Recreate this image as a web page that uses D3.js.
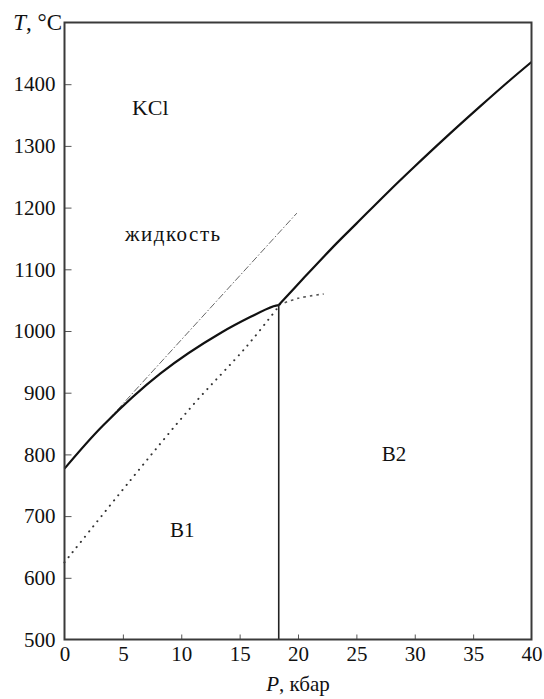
<!DOCTYPE html>
<html>
<head>
<meta charset="utf-8">
<script src="https://cdn.jsdelivr.net/npm/d3@7"></script>
<style>
    body { margin: 0; background: #fff; }
    text { font-family: "Liberation Serif", "Times New Roman", serif; fill: #111; }
</style>
</head>
<body>
<div id="chart"></div>
<script>
// ticks
let xTicks = [0, 5, 10, 15, 20, 25, 30, 35, 40];
let yTicks = [500, 600, 700, 800, 900, 1000, 1100, 1200, 1300, 1400];

// phase boundaries, [P kbar, T °C]
let meltB1 = [[0, 777], [3.3, 847], [8.2, 931], [13.3, 996], [17.9, 1040], [18.35, 1042]];
let meltB2 = [[18.35, 1042], [20.45, 1085], [23.3, 1142], [25, 1174], [27.7, 1225], [29.9, 1265],
    [32.5, 1311], [35.6, 1364], [38, 1404], [40, 1436]];
let meltTangent = [[3.8, 857], [19.9, 1191]];
let transB1B2 = [[0, 625], [5.6, 757], [11, 880], [15.6, 975], [18.35, 1040]];
let meltB1Metastable = [[18.35, 1042], [20, 1053], [22.2, 1060]];
let tripleP = 18.35;

// region labels
let labels = [
    {text: "KCl", p: 5.78, t: 1350, size: 22, spacing: 0},
    {text: "жидкость", p: 5.18, t: 1146, size: 21, spacing: 1.5},
    {text: "B1", p: 9.04, t: 666, size: 21, spacing: 0},
    {text: "B2", p: 27.17, t: 790, size: 21, spacing: 0}
];

let totalWidth = 544, totalHeight = 699;
let mLeft = 64.5, mRight = 12.5, mTop = 22.5, mBottom = 59.5;
let fontSize = 21;

let xScale = d3.scaleLinear().domain([0, 40]).range([mLeft, totalWidth - mRight]);
let yScale = d3.scaleLinear().domain([500, 1500]).range([totalHeight - mBottom, mTop]);

let svg = d3.select("#chart").append("svg")
        .attr("width", totalWidth)
        .attr("height", totalHeight);

function makeAxes() {
    let xAxis = d3.axisBottom(xScale)
            .tickValues(xTicks)
            .tickSize(-5)
            .tickPadding(11)
            .tickFormat(d3.format("d"));
    let yAxis = d3.axisLeft(yScale)
            .tickValues(yTicks)
            .tickSize(-7)
            .tickPadding(9)
            .tickFormat(d3.format("d"));

    let gx = svg.append("g")
            .attr("transform", "translate(0," + yScale(500) + ")")
            .call(xAxis);
    let gy = svg.append("g")
            .attr("transform", "translate(" + xScale(0) + ",0)")
            .call(yAxis);

    [gx, gy].forEach(function (g) {
        g.attr("font-family", null);
        g.select(".domain").remove();
        g.selectAll(".tick line").attr("stroke", "#555").attr("stroke-width", 1);
        g.selectAll(".tick text")
                .attr("font-size", fontSize)
                .attr("fill", "#111");
    });
    // ticks at the corners sit on the frame
    gx.selectAll(".tick line").filter(d => d === 0 || d === 40).remove();
    gy.selectAll(".tick line").filter(d => d === 500).remove();
    gx.selectAll(".tick text").attr("dy", "0.5em");

    // frame
    svg.append("rect")
            .attr("x", xScale(0))
            .attr("y", yScale(1500))
            .attr("width", xScale(40) - xScale(0))
            .attr("height", yScale(500) - yScale(1500))
            .attr("fill", "none")
            .attr("stroke", "#3a3a3a")
            .attr("stroke-width", 2);

    // axis titles
    let tTitle = svg.append("text")
            .attr("x", 62)
            .attr("y", 30)
            .attr("text-anchor", "end")
            .attr("font-size", 23);
    tTitle.append("tspan").attr("font-style", "italic").text("T");
    tTitle.append("tspan").text(", °C");

    let pTitle = svg.append("text")
            .attr("x", (xScale(0) + xScale(40)) / 2)
            .attr("y", 691)
            .attr("text-anchor", "middle")
            .attr("font-size", fontSize);
    pTitle.append("tspan").attr("font-style", "italic").text("P");
    pTitle.append("tspan").text(", кбар");
}

function makeLine(data, style) {
    let line = d3.line()
            .x(d => xScale(d[0]))
            .y(d => yScale(d[1]))
            .curve(style.curve || d3.curveCatmullRom);
    svg.append("path")
            .datum(data)
            .attr("d", line)
            .attr("fill", "none")
            .attr("stroke", style.color)
            .attr("stroke-width", style.width)
            .attr("stroke-dasharray", style.dash || null)
            .attr("stroke-linecap", style.cap || "butt");
}

function makeCurves() {
    makeLine(meltTangent, {color: "#666", width: 1, dash: "7,2,1.5,2", curve: d3.curveLinear});
    makeLine(transB1B2, {color: "#333", width: 2, dash: "0.1,6.5", cap: "round"});
    makeLine(meltB1Metastable, {color: "#555", width: 1.6, dash: "2.5,4"});
    makeLine(meltB1, {color: "#111", width: 2.2});
    makeLine(meltB2, {color: "#111", width: 2.2});

    svg.append("line")
            .attr("x1", xScale(tripleP))
            .attr("x2", xScale(tripleP))
            .attr("y1", yScale(1042))
            .attr("y2", yScale(500))
            .attr("stroke", "#222")
            .attr("stroke-width", 1.6);
}

function makeLabels() {
    svg.selectAll("text.region")
            .data(labels)
            .enter()
            .append("text")
            .attr("class", "region")
            .attr("x", d => xScale(d.p))
            .attr("y", d => yScale(d.t))
            .attr("font-size", d => d.size)
            .attr("letter-spacing", d => d.spacing)
            .text(d => d.text);
}

makeCurves();
makeAxes();
makeLabels();
</script>
</body>
</html>
